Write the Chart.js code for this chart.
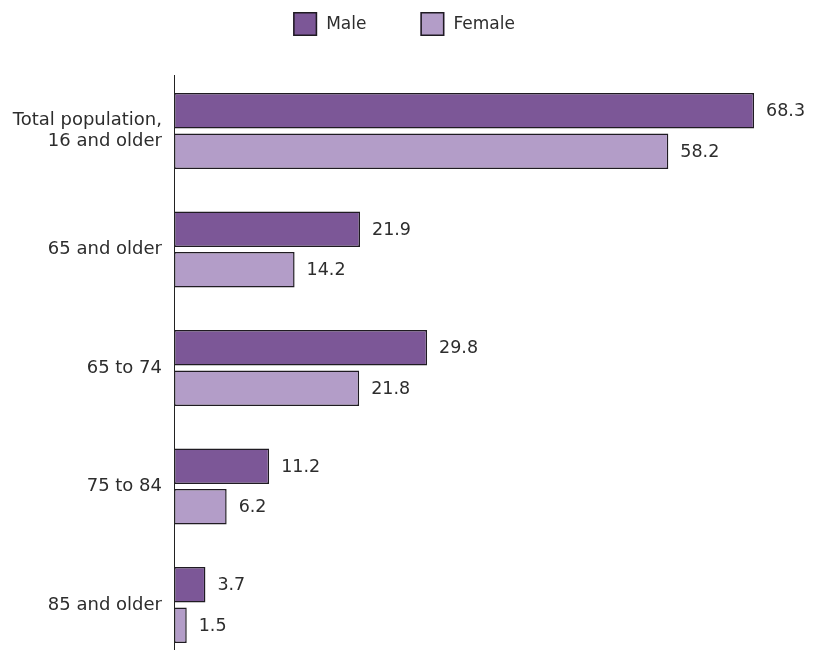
<!doctype html>
<html lang="en">
<head>
  <meta charset="utf-8" />
  <title>Population by age and sex</title>
  <script src="https://cdn.jsdelivr.net/npm/chart.js"></script>
  <style>
    html, body { margin: 0; padding: 0; background: #fff; }
    #wrap { width: 814px; height: 656px; }
  </style>
</head>
<body>
  <div id="wrap">
    <canvas id="popChart" width="814" height="656"></canvas>
  </div>

<script>
  // Data
  const categories = [
    ['Total population,', '16 and older'],
    '65 and older',
    '65 to 74',
    '75 to 84',
    '85 and older'
  ];
  const seriesNames = ['Male', 'Female'];
  const maleValues = [68.3, 21.9, 29.8, 11.2, 3.7];
  const femaleValues = [58.2, 14.2, 21.8, 6.2, 1.5];

  const textColor = '#2d2d2d';
  const edgeColor = '#1f1b22';
  const fontFamily = "'DejaVu Sans', sans-serif";

  // axis line on the left, a bit longer than the bars area
  const axisLine = {
    id: 'axisLine',
    afterDraw(chart) {
      const { ctx, chartArea } = chart;
      ctx.save();
      ctx.strokeStyle = '#222';
      ctx.lineWidth = 1;
      ctx.beginPath();
      ctx.moveTo(chartArea.left + 0.5, chartArea.top - 56);
      ctx.lineTo(chartArea.left + 0.5, chartArea.bottom + 45);
      ctx.stroke();
      ctx.restore();
    }
  };

  // value labels at the end of every bar
  const valueLabels = {
    id: 'valueLabels',
    afterDatasetsDraw(chart) {
      const { ctx } = chart;
      ctx.save();
      ctx.fillStyle = textColor;
      ctx.font = "17.5px " + fontFamily;
      ctx.textBaseline = 'middle';
      ctx.textAlign = 'left';
      chart.data.datasets.forEach((ds, i) => {
        chart.getDatasetMeta(i).data.forEach((bar, j) => {
          ctx.fillText(ds.data[j].toFixed(1), bar.x + 12, bar.y + 1);
        });
      });
      ctx.restore();
    }
  };

  // legend row at the top, centred, with wide spacing between items
  const topLegend = {
    id: 'topLegend',
    afterDraw(chart) {
      const { ctx } = chart;
      const box = 24, textGap = 9, itemGap = 54, y = 12;
      ctx.save();
      ctx.font = "17px " + fontFamily;
      const widths = chart.data.datasets.map(ds => ctx.measureText(ds.label).width);
      let total = 0;
      widths.forEach((w, i) => { total += box + textGap + w + (i ? itemGap : 0); });
      let x = chart.width / 2 - total / 2 - 3;
      chart.data.datasets.forEach((ds, i) => {
        ctx.fillStyle = ds.backgroundColor;
        ctx.fillRect(x, y, box, box);
        ctx.strokeStyle = ds.borderColor;
        ctx.lineWidth = 1.5;
        ctx.strokeRect(x + 0.75, y + 0.75, box - 1.5, box - 1.5);
        ctx.fillStyle = textColor;
        ctx.textBaseline = 'middle';
        ctx.fillText(ds.label, x + box + textGap, y + box / 2 + 1);
        x += box + textGap + widths[i] + itemGap;
      });
      ctx.restore();
    }
  };

  const ctx = document.getElementById('popChart').getContext('2d');
  const popChart = new Chart(ctx, {
    type: 'bar',
    data: {
      labels: categories,
      datasets: [{
        label: seriesNames[0],
        data: maleValues,
        backgroundColor: '#7c5797',
        borderColor: edgeColor,
        borderWidth: 1.5,
        borderSkipped: false,
        clip: false
      }, {
        label: seriesNames[1],
        data: femaleValues,
        backgroundColor: '#b39dc8',
        borderColor: edgeColor,
        borderWidth: 1.5,
        borderSkipped: false,
        clip: false
      }]
    },
    options: {
      indexAxis: 'y',
      responsive: false,
      animation: false,
      categoryPercentage: 0.684,
      barPercentage: 0.88,
      layout: {
        padding: { top: 131, right: 3, bottom: 51, left: 0 }
      },
      scales: {
        x: {
          display: false,
          min: 0,
          max: 75
        },
        y: {
          offset: false,
          grid: { display: false, drawTicks: false },
          border: { display: false },
          ticks: {
            color: textColor,
            padding: 12,
            font: { family: fontFamily, size: 18 }
          },
          afterFit(scale) {
            scale.width = 174;
          }
        }
      },
      plugins: {
        tooltip: { enabled: false },
        legend: { display: false }
      }
    },
    plugins: [axisLine, valueLabels, topLegend]
  });
</script>
</body>
</html>
